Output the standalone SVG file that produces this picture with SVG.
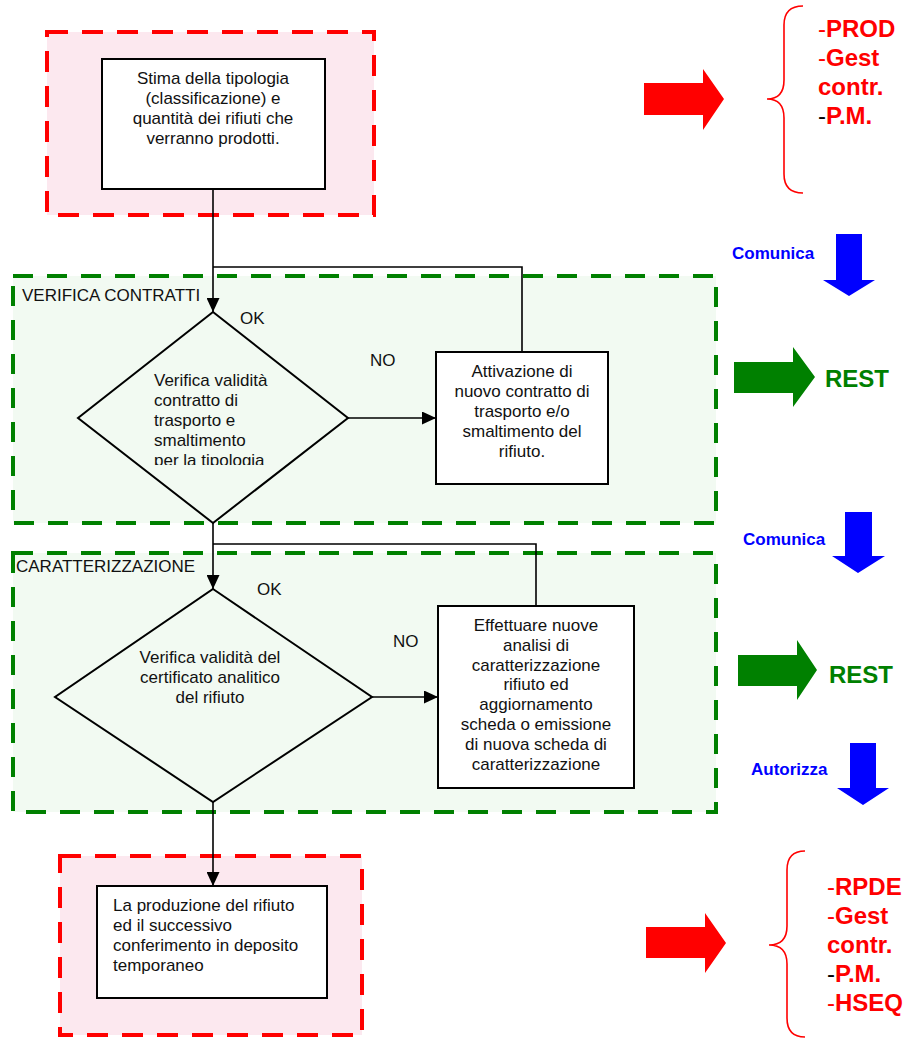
<svg xmlns="http://www.w3.org/2000/svg" width="909" height="1040" viewBox="0 0 909 1040">
<style>
text{font-family:"Liberation Sans",Arial,sans-serif;font-size:17px;fill:#111}
.c{text-anchor:middle}
.redzone{fill:#fce8ef;stroke:#ff0000;stroke-width:4;stroke-dasharray:21 14}
.greenzone{fill:#f2faf2;stroke:#008000;stroke-width:4;stroke-dasharray:20 14}
.box{fill:#fff;stroke:#000;stroke-width:2}
.dia{fill:none;stroke:#000;stroke-width:2}
.conn{fill:none;stroke:#000;stroke-width:1.6}
.big{font-size:24px;font-weight:bold}
.red{fill:#ff0000}
.grn{fill:#008000}
.blu{fill:#0000ff;font-weight:bold}
.dash{font-weight:normal}
.brace{fill:none;stroke:#ff0000;stroke-width:1.6}
</style>
<defs>
<marker id="ah" markerUnits="userSpaceOnUse" markerWidth="15" markerHeight="13" refX="14" refY="6.5" orient="auto">
<path d="M0,0 L14,6.5 L0,13 z" fill="#000"/>
</marker>
<clipPath id="clipD1"><rect x="140" y="360" width="150" height="105"/></clipPath>
</defs>

<g id="zones">
<rect id="zone-top" class="redzone" x="47" y="32" width="327" height="183"/>
<rect id="zone-verifica" class="greenzone" x="13" y="276" width="703" height="247"/>
<rect id="zone-caratt" class="greenzone" x="13" y="553" width="703" height="259"/>
<rect id="zone-bottom" class="redzone" x="60" y="856" width="302" height="179"/>
<text x="22" y="301">VERIFICA CONTRATTI</text>
<text x="16" y="572">CARATTERIZZAZIONE</text>
</g>

<g id="connectors">
<line class="conn" x1="213" y1="189" x2="213" y2="312" marker-end="url(#ah)"/>
<polyline class="conn" points="522,352 522,267 213,267"/>
<line class="conn" x1="348" y1="418" x2="436" y2="418" marker-end="url(#ah)"/>
<line class="conn" x1="213" y1="523" x2="213" y2="589" marker-end="url(#ah)"/>
<polyline class="conn" points="536,606 536,544 213,544"/>
<line class="conn" x1="372" y1="697" x2="438" y2="697" marker-end="url(#ah)"/>
<line class="conn" x1="213" y1="802" x2="213" y2="886" marker-end="url(#ah)"/>
<text x="240" y="324">OK</text>
<text x="370" y="366">NO</text>
<text x="257" y="595">OK</text>
<text x="393" y="647">NO</text>
</g>

<g id="n-stima">
<rect class="box" x="102" y="59" width="223" height="130"/>
<text class="c" x="213" y="84">Stima della tipologia</text>
<text class="c" x="213" y="104">(classificazione) e</text>
<text class="c" x="213" y="124">quantità dei rifiuti che</text>
<text class="c" x="213" y="144">verranno prodotti.</text>
</g>

<g id="n-verifica-contratto">
<polygon class="dia" points="213,312 348,418 213,523 78,418"/>
<g clip-path="url(#clipD1)">
<text x="154" y="386">Verifica validità</text>
<text x="154" y="406">contratto di</text>
<text x="154" y="426">trasporto e</text>
<text x="154" y="446">smaltimento</text>
<text x="154" y="466">per la tipologia</text>
</g>
</g>

<g id="n-attivazione">
<rect class="box" x="436" y="352" width="172" height="132"/>
<text class="c" x="522" y="377">Attivazione di</text>
<text class="c" x="522" y="397">nuovo contratto di</text>
<text class="c" x="522" y="417">trasporto e/o</text>
<text class="c" x="522" y="437">smaltimento del</text>
<text class="c" x="522" y="457">rifiuto.</text>
</g>

<g id="n-verifica-cert">
<polygon class="dia" points="213,589 372,697 213,802 55,697"/>
<text class="c" x="210" y="663">Verifica validità del</text>
<text class="c" x="210" y="683">certificato analitico</text>
<text class="c" x="210" y="703">del rifiuto</text>
</g>

<g id="n-effettuare">
<rect class="box" x="438" y="606" width="196" height="182"/>
<text class="c" x="536" y="631">Effettuare nuove</text>
<text class="c" x="536" y="651">analisi di</text>
<text class="c" x="536" y="670.5">caratterizzazione</text>
<text class="c" x="536" y="690">rifiuto ed</text>
<text class="c" x="536" y="710">aggiornamento</text>
<text class="c" x="536" y="730">scheda o emissione</text>
<text class="c" x="536" y="750">di nuova scheda di</text>
<text class="c" x="536" y="770">caratterizzazione</text>
</g>

<g id="n-produzione">
<rect class="box" x="97" y="886" width="230" height="112"/>
<text x="113" y="911">La produzione del rifiuto</text>
<text x="113" y="931">ed il successivo</text>
<text x="113" y="951">conferimento in deposito</text>
<text x="113" y="971">temporaneo</text>
</g>

<g id="side-top">
<polygon class="red" points="644,83 703,83 703,69 724,99 703,130 703,115 644,115"/>
<path class="brace" d="M803,6 Q784,6 784,25 L784,80 Q784,99 767,99 Q784,99 784,118 L784,174 Q784,193 803,193"/>
<text class="big red" x="818" y="37"><tspan class="dash">-</tspan>PROD</text>
<text class="big red" x="818" y="66"><tspan class="dash">-</tspan>Gest</text>
<text class="big red" x="818" y="95">contr.</text>
<text class="big red" x="818" y="124"><tspan class="dash" fill="#000">-</tspan>P.M.</text>
</g>

<g id="side-comunica1">
<text class="blu" x="732" y="259">Comunica</text>
<polygon fill="#0000ff" points="836,234 862,234 862,280 875,280 849,296 823,280 836,280"/>
</g>

<g id="side-rest1">
<polygon class="grn" points="734,362 793,362 793,347 815,377 793,407 793,393 734,393"/>
<text class="big grn" x="825" y="387">REST</text>
</g>

<g id="side-comunica2">
<text class="blu" x="743" y="545">Comunica</text>
<polygon fill="#0000ff" points="845,512 872,512 872,556 885,556 858,573 832,556 845,556"/>
</g>

<g id="side-rest2">
<polygon class="grn" points="738,655 797,655 797,640 817,670 797,700 797,686 738,686"/>
<text class="big grn" x="829" y="683">REST</text>
</g>

<g id="side-autorizza">
<text class="blu" x="751" y="775">Autorizza</text>
<polygon fill="#0000ff" points="850,743 876,743 876,788 889,788 863,805 837,788 850,788"/>
</g>

<g id="side-bottom">
<polygon class="red" points="646,927 705,927 705,913 726,943 705,973 705,958 646,958"/>
<path class="brace" d="M805,851 Q787,851 787,870 L787,926 Q787,945 769,945 Q787,945 787,964 L787,1018 Q787,1037 805,1037"/>
<text class="big red" x="827" y="895"><tspan class="dash">-</tspan>RPDE</text>
<text class="big red" x="827" y="924"><tspan class="dash">-</tspan>Gest</text>
<text class="big red" x="827" y="953">contr.</text>
<text class="big red" x="827" y="982"><tspan class="dash" fill="#000">-</tspan>P.M.</text>
<text class="big red" x="827" y="1011"><tspan class="dash">-</tspan>HSEQ</text>
</g>
</svg>
